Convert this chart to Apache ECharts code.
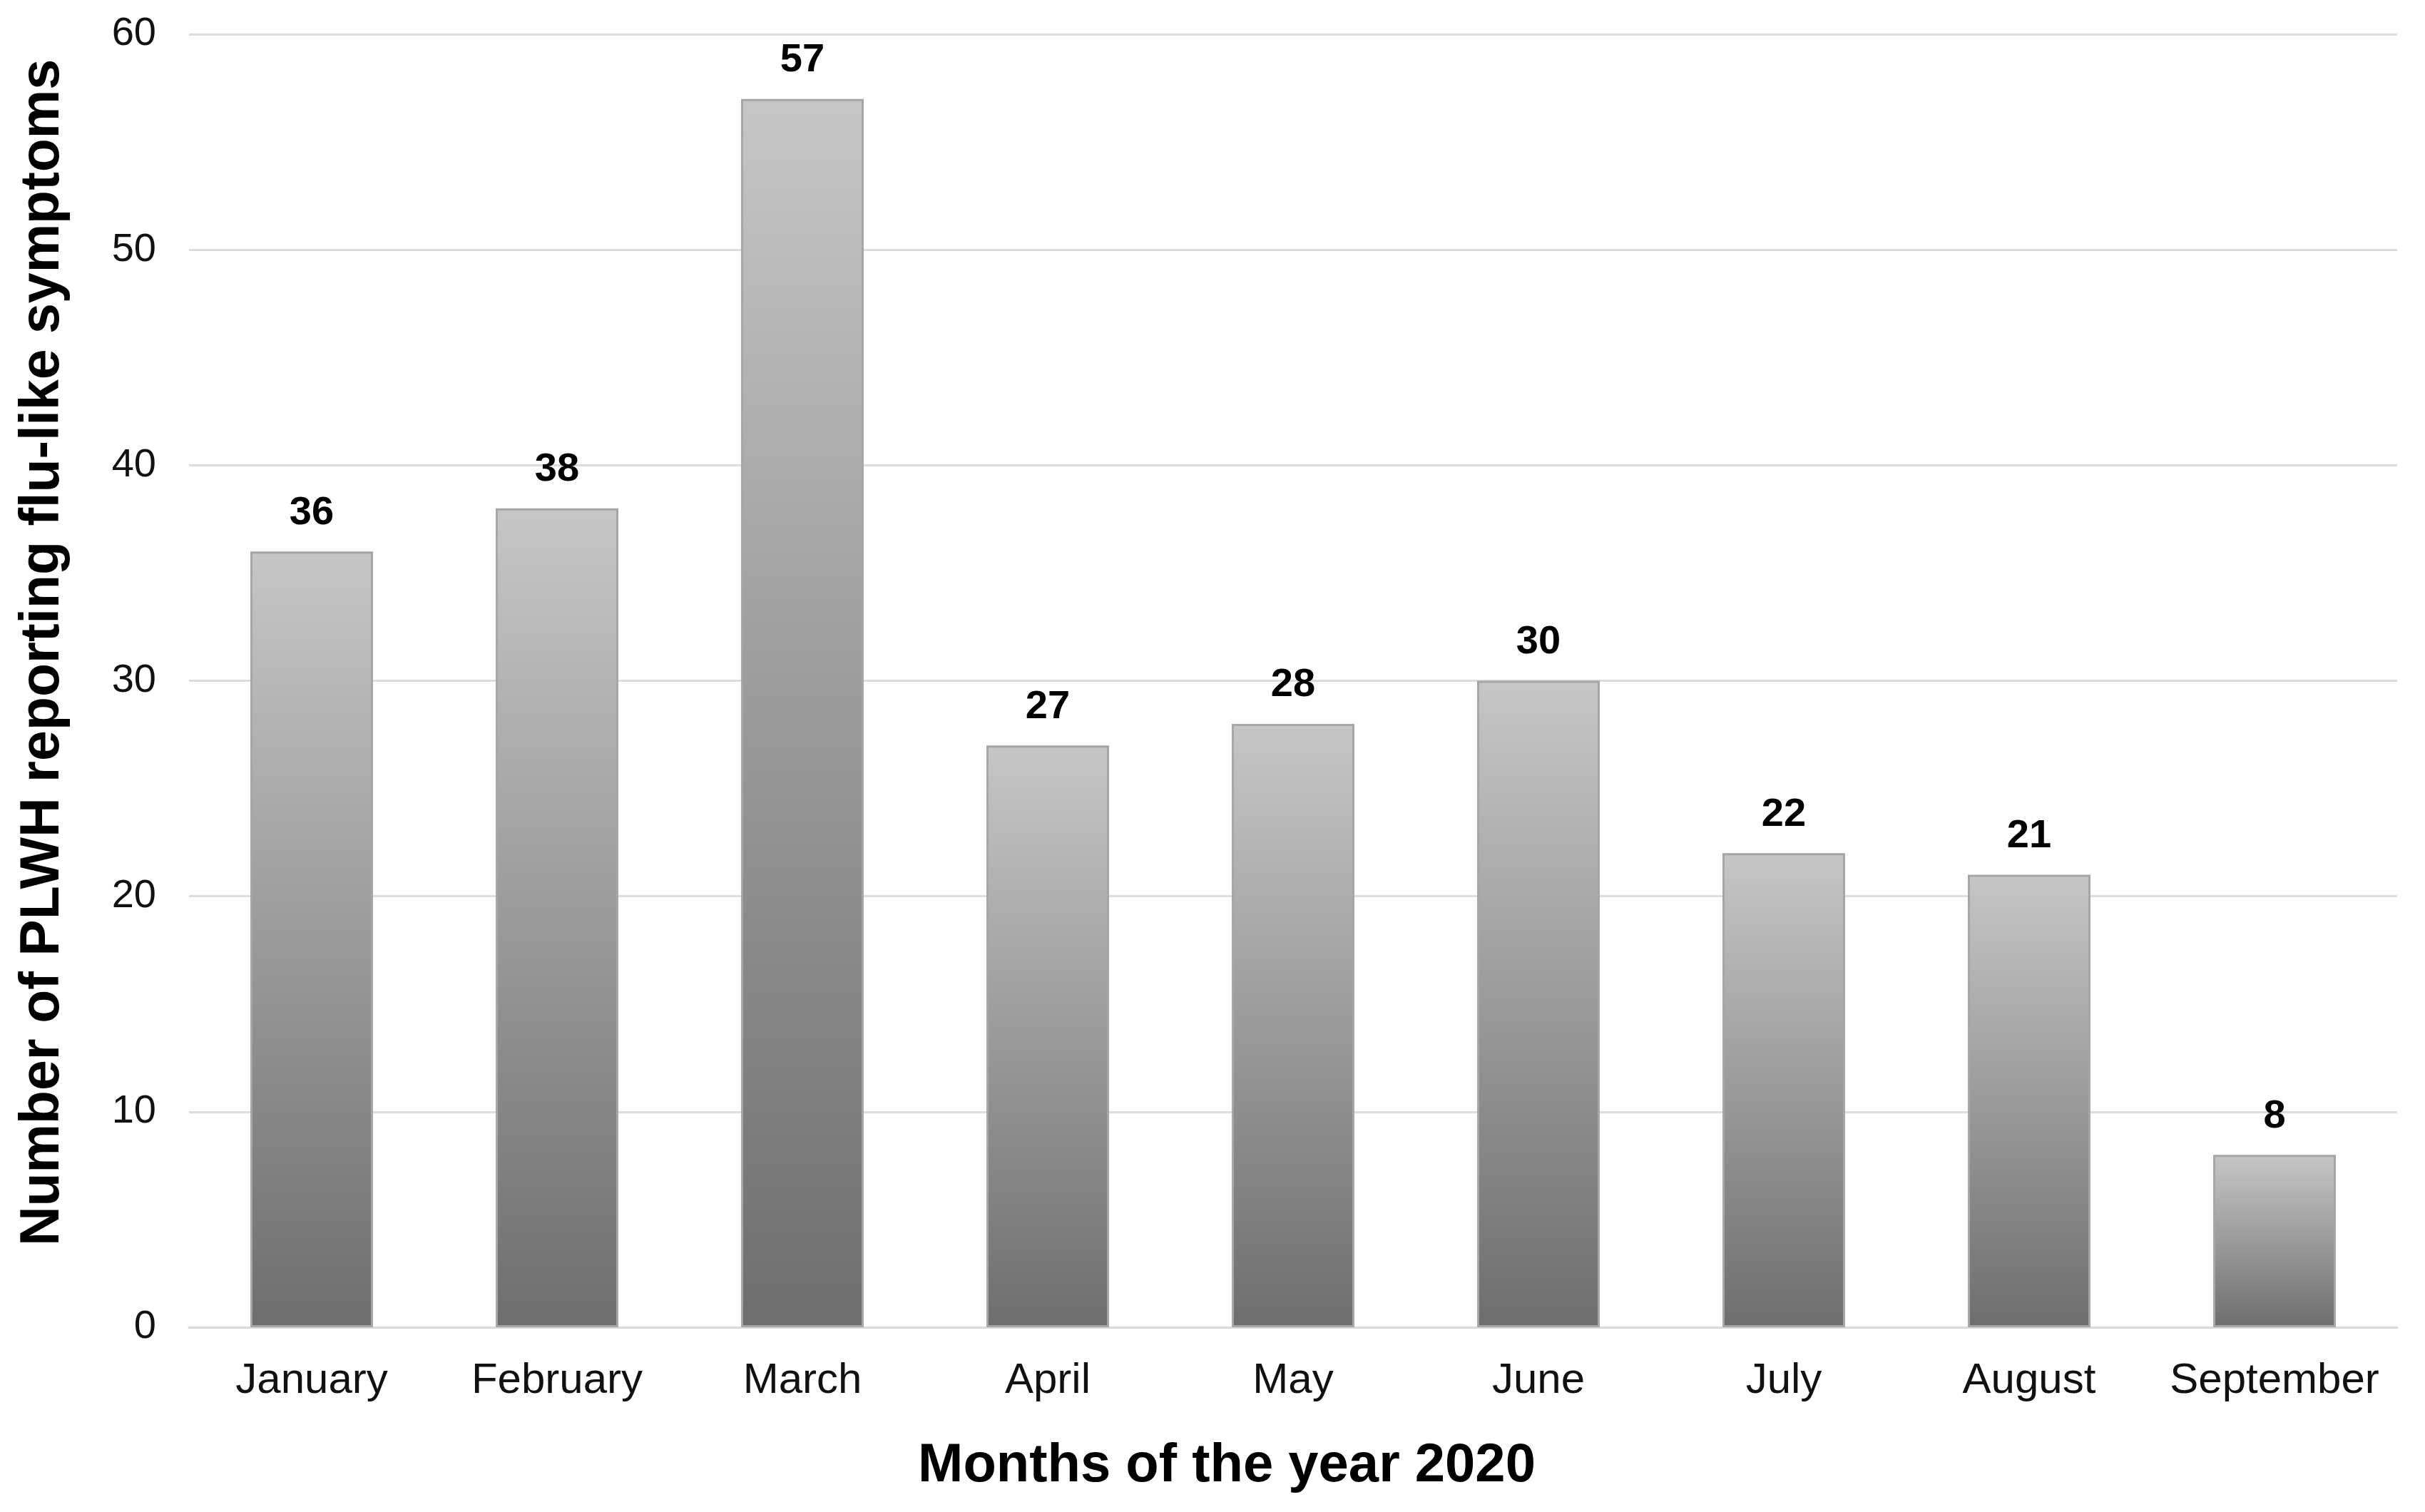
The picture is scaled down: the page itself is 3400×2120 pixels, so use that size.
<!DOCTYPE html>
<html>
<head>
<meta charset="utf-8">
<script src="https://cdn.jsdelivr.net/npm/echarts@6/dist/echarts.min.js"></script>
<style>
html,body{margin:0;padding:0;background:#fff;}
#chart{width:3400px;height:2120px;}
</style>
</head>
<body>
<div id="chart"></div>
<script>
const categories = ["January","February","March","April","May","June","July","August","September"];
const values = [36, 38, 57, 27, 28, 30, 22, 21, 8];
const yTicks = [0, 10, 20, 30, 40, 50, 60];
const xTitle = "Months of the year 2020";
const yTitle = "Number of PLWH reporting flu-like symptoms";

const FONT = "'Liberation Sans', Arial, Helvetica, sans-serif";
const chart = echarts.init(document.getElementById('chart'), null, {renderer: 'canvas'});
chart.setOption({
  backgroundColor: '#ffffff',
  animation: false,
  grid: {left: 265, right: 39, top: 48, bottom: 259, containLabel: false},
  xAxis: {
    type: 'category',
    data: categories,
    axisLine: {show: true, lineStyle: {color: '#d9d9d9', width: 3}},
    axisTick: {show: false},
    axisLabel: {color: '#111', fontFamily: FONT, fontSize: 60, margin: 45, interval: 0}
  },
  yAxis: {
    type: 'value',
    min: yTicks[0],
    max: yTicks[yTicks.length - 1],
    interval: 10,
    axisLine: {show: false},
    axisTick: {show: false},
    splitLine: {show: true, lineStyle: {color: '#dcdcdc', width: 3}},
    axisLabel: {color: '#111', fontFamily: FONT, fontSize: 56, margin: 46}
  },
  series: [{
    type: 'bar',
    data: values,
    barCategoryGap: '50%',
    itemStyle: {
      color: new echarts.graphic.LinearGradient(0, 0, 0, 1, [
        {offset: 0, color: '#c6c6c6'},
        {offset: 1, color: '#6e6e6e'}
      ]),
      borderColor: '#a6a6a6',
      borderWidth: 3
    },
    label: {
      show: true,
      position: 'top',
      distance: 26,
      color: '#000',
      fontFamily: FONT,
      fontWeight: 'bold',
      fontSize: 56
    }
  }],
  graphic: [
    {
      type: 'text',
      x: 61, y: 915,
      rotation: Math.PI / 2,
      style: {
        text: yTitle, fill: '#000', font: 'bold 77px ' + FONT,
        textAlign: 'center', textVerticalAlign: 'middle'
      }
    },
    {
      type: 'text',
      x: 1720, y: 2056,
      style: {
        text: xTitle, fill: '#000', font: 'bold 76px ' + FONT,
        textAlign: 'center', textVerticalAlign: 'middle'
      }
    }
  ]
});
</script>
</body>
</html>
